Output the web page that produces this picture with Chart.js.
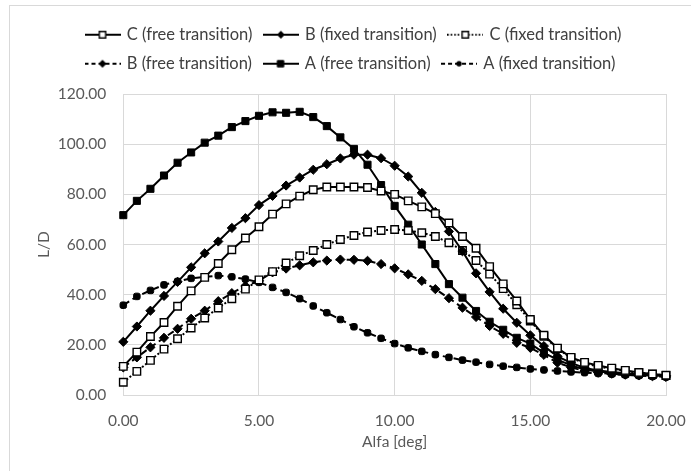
<!DOCTYPE html>
<html>
<head>
<meta charset="utf-8">
<script src="https://cdn.jsdelivr.net/npm/chart.js@4.4.1/dist/chart.umd.min.js"></script>
<style>
html,body{margin:0;padding:0;background:#fff;}
#wrap{width:691px;height:471px;position:relative;}
</style>
</head>
<body>
<div id="wrap"><canvas id="c" width="691" height="471"></canvas></div>
<script>
const alfa = [0,0.5,1,1.5,2,2.5,3,3.5,4,4.5,5,5.5,6,6.5,7,7.5,8,8.5,9,9.5,10,10.5,11,11.5,12,12.5,13,13.5,14,14.5,15,15.5,16,16.5,17,17.5,18,18.5,19,19.5,20];

const cFree = [11.4,17.1,23.3,28.9,35.4,41.5,46.9,52.4,57.9,62.6,67.1,72.1,76.2,79.3,81.8,82.9,82.9,82.9,82.7,81.3,80.0,77.4,75.0,72.3,68.6,63.2,58.5,51.2,44.3,37.5,30.1,23.8,18.7,15.0,13.0,11.8,10.7,9.8,9.0,8.4,7.9];
const bFixed = [21.2,27.3,33.6,39.5,45.1,50.9,56.5,61.2,66.6,70.5,75.7,79.4,83.5,86.7,89.8,92.0,94.3,95.8,95.8,94.4,91.4,87.1,80.6,73.0,65.2,57.3,48.5,41.1,34.4,28.8,23.8,19.5,15.4,12.8,10.8,9.8,9.2,8.7,8.3,8.0,7.7];
const cFixed = [5.1,9.4,13.8,18.3,22.4,26.7,30.7,34.7,38.4,42.2,45.9,49.2,52.6,55.5,57.6,60.0,62.0,63.6,65.0,65.6,66.0,65.6,64.7,63.2,60.7,57.6,53.6,48.2,42.4,36.0,29.5,23.4,18.5,14.8,12.6,11.4,10.4,9.6,8.9,8.3,7.8];
const bFree = [11.0,15.0,19.0,22.8,26.4,30.4,33.6,37.4,40.6,43.5,45.5,48.9,50.4,51.7,52.9,53.6,54.0,53.9,53.5,52.2,50.5,48.1,45.5,42.2,38.6,34.8,31.1,27.5,24.4,20.8,18.8,16.0,12.9,11.0,9.6,8.9,8.5,8.1,7.8,7.5,7.2];
const aFree = [71.7,77.4,82.2,87.5,92.6,96.7,100.6,103.4,106.8,109.2,111.3,112.7,112.5,112.9,110.8,107.2,102.7,98.1,91.8,83.7,75.4,67.9,60.0,52.2,44.2,38.8,33.5,29.2,26.0,22.8,20.5,16.8,14.1,11.8,10.2,9.4,8.9,8.5,8.2,7.9,7.6];
const aFixed = [35.8,39.3,41.7,43.9,45.3,46.5,47.1,47.6,47.1,46.2,44.9,42.9,40.9,38.4,35.5,32.8,30.1,27.2,24.8,22.6,20.5,18.8,17.4,16.1,15.0,13.9,13.1,12.2,11.5,11.0,10.4,10.0,9.6,9.2,8.9,8.6,8.3,8.0,7.7,7.4,7.1];

const seriesNames = ['C (free transition)','B (fixed transition)','C (fixed transition)','B (free transition)','A (free transition)','A (fixed transition)'];
const xTicks = [0,5,10,15,20];
const yTicks = [0,20,40,60,80,100,120];

const FONT = 'Lato';
const styles = [
  {vals:cFree,  dash:[],    ps:'rect',        r:5.3, fill:'#ffffff', bw:1.4},
  {vals:bFixed, dash:[],    ps:'rectRot',     r:4.6, fill:'#000000', bw:1},
  {vals:cFixed, dash:[2,2], ps:'rect',        r:5.3, fill:'#ffffff', bw:1.4},
  {vals:bFree,  dash:[7,4], ps:'rectRot',     r:4.6, fill:'#000000', bw:1},
  {vals:aFree,  dash:[],    ps:'rect',        r:5.0, fill:'#000000', bw:1},
  {vals:aFixed, dash:[7,4], ps:'rectRounded', r:3.8, fill:'#000000', bw:1}
];

function legendImage(s){
  const cv = document.createElement('canvas');
  cv.width = 36; cv.height = 14;
  const g = cv.getContext('2d');
  g.strokeStyle = '#000'; g.lineWidth = 2;
  g.setLineDash(s.dash.length ? (s.dash[0] === 2 ? [1.5,2] : [4,3]) : []);
  g.beginPath(); g.moveTo(0,7); g.lineTo(36,7); g.stroke();
  g.setLineDash([]);
  g.lineWidth = s.bw;
  g.fillStyle = s.fill;
  g.beginPath();
  if (s.ps === 'rectRot') { const r = 4; g.moveTo(18-r,7); g.lineTo(18,7-r); g.lineTo(18+r,7); g.lineTo(18,7+r); g.closePath(); g.fill(); }
  else if (s.ps === 'rectRounded') { g.arc(18,7,2.7,0,Math.PI*2); g.fill(); }
  else { const h = 3.2; g.rect(18-h,7-h,2*h,2*h); g.fill(); g.stroke(); }
  return cv;
}

const datasets = styles.map((s,i)=>({
  label: seriesNames[i],
  data: alfa.map((a,k)=>({x:a, y:s.vals[k]})),
  borderColor:'#000000',
  backgroundColor:s.fill,
  borderWidth:2,
  borderDash:s.dash,
  pointStyle:s.ps,
  pointRadius:s.r,
  pointHoverRadius:s.r,
  pointBackgroundColor:s.fill,
  pointBorderColor:'#000000',
  pointBorderWidth:s.bw,
  tension:0,
  clip:10,
  legendImg: legendImage(s)
}));

const GAP = 12;
const LEGEND_SHIFT = 54;
const frame = {
  id:'frame',
  beforeDraw(chart){
    const c = chart.ctx;
    c.save();
    c.fillStyle = '#ffffff';
    c.fillRect(0,0,chart.width,chart.height);
    c.strokeStyle = '#d9d9d9'; c.lineWidth = 1;
    c.strokeRect(9.5,5.5,1000,1000);
    c.restore();
  }
};
const legendTweak = {
  id:'legendTweak',
  beforeLayout(chart){
    const lg = chart.legend;
    if (lg && !lg._patched){
      const fit = lg.fit;
      lg.fit = function(){ fit.call(this); this.height += GAP; };
      const draw = lg.draw;
      lg.draw = function(){ const c = this.ctx; c.save(); c.translate(LEGEND_SHIFT,0); draw.call(this); c.restore(); };
      lg._patched = true;
    }
  }
};

new Chart(document.getElementById('c'), {
  type:'line',
  data:{datasets},
  plugins:[frame, legendTweak],
  options:{
    responsive:false,
    animation:false,
    devicePixelRatio:1,
    layout:{padding:{left:20, right:25, top:14, bottom:0}},
    plugins:{
      tooltip:{enabled:false},
      legend:{
        position:'top',
        align:'start',
        labels:{
          usePointStyle:true,
          pointStyleWidth:32,
          padding:12.5,
          color:'#404040',
          font:{family:FONT, size:16.5},
          generateLabels(chart){
            return chart.data.datasets.map((d,i)=>({
              text:d.label, pointStyle:d.legendImg, fillStyle:'#000', strokeStyle:'#000',
              lineWidth:0, hidden:false, datasetIndex:i, fontColor:'#404040'
            }));
          }
        }
      }
    },
    scales:{
      x:{
        type:'linear', min:0, max:20,
        afterFit(s){ s.height = 76; },
        afterBuildTicks(s){ s.ticks = xTicks.map(v=>({value:v})); },
        grid:{color:'#d9d9d9', drawTicks:true, tickLength:14, tickColor:'rgba(0,0,0,0)', lineWidth:1},
        border:{color:'#d9d9d9'},
        ticks:{padding:3, color:'#595959', font:{family:FONT, size:15.5}, callback:v=>Number(v).toFixed(2)},
        title:{display:true, text:'Alfa [deg]', color:'#595959', font:{family:FONT, size:15.5}, padding:{top:0,bottom:20}}
      },
      y:{
        type:'linear', min:0, max:120,
        afterFit(s){ s.width = 123.3 - 20; },
        afterBuildTicks(s){ s.ticks = yTicks.map(v=>({value:v})); },
        grid:{color:'#d9d9d9', drawTicks:false, lineWidth:1},
        border:{color:'#d9d9d9'},
        ticks:{padding:17, color:'#595959', font:{family:FONT, size:15.5}, callback:v=>Number(v).toFixed(2)},
        title:{display:true, text:'L/D', color:'#595959', font:{family:FONT, size:15.5}, padding:{top:15,bottom:0}}
      }
    }
  }
});
</script>
</body>
</html>
